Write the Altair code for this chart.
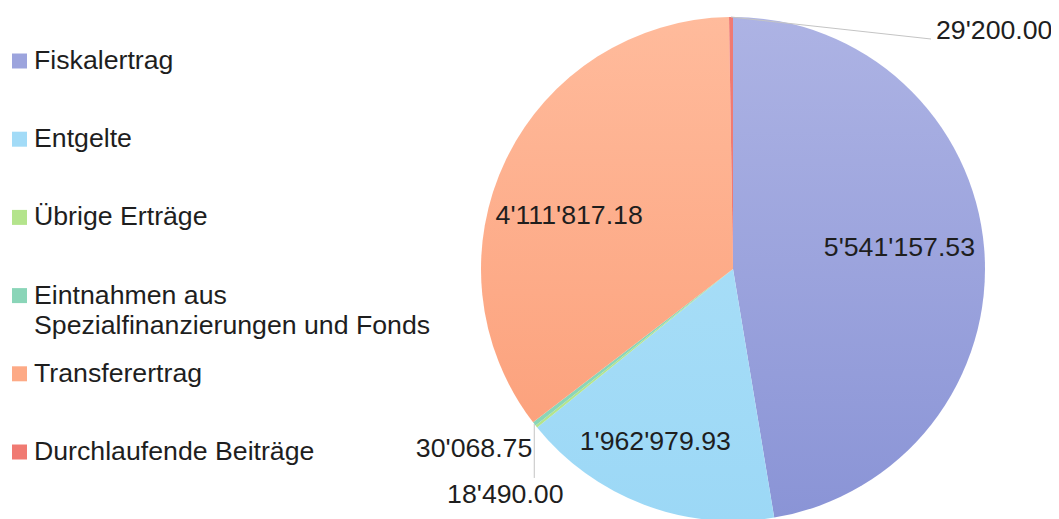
import altair as alt
import pandas as pd

# ---------------- data ----------------
categories = [
    "Fiskalertrag",
    "Entgelte",
    "Übrige Erträge",
    "Eintnahmen aus Spezialfinanzierungen und Fonds",
    "Transferertrag",
    "Durchlaufende Beiträge",
]
values = [5541157.53, 1962979.93, 18490.00, 30068.75, 4111817.18, 29200.00]
legend_line1 = ["Fiskalertrag", "Entgelte", "Übrige Erträge", "Eintnahmen aus",
                "Transferertrag", "Durchlaufende Beiträge"]
legend_line2 = ["", "", "", "Spezialfinanzierungen und Fonds", "", ""]
colors = ["#9ca4dd", "#a2dbf7", "#b4e48c", "#8ad5b8", "#fdaa86", "#f07a72"]


def fmt(v):
    return f"{v:,.2f}".replace(",", "'")


df = pd.DataFrame({
    "idx": list(range(len(categories))),
    "category": categories,
    "value": values,
    "label": [fmt(v) for v in values],
    "line1": legend_line1,
    "line2": legend_line2,
})

# ---------------- style ----------------
CX, CY, R = 725, 261, 252
FONT = "Liberation Sans"
FS = 26.7
TXT = "#1e1e1e"


def grad(top, bottom):
    return alt.LinearGradient(
        gradient="linear",
        stops=[alt.GradientStop(offset=0, color=top),
               alt.GradientStop(offset=1, color=bottom)],
        x1=0, x2=0, y1=0, y2=1,
    )


fills = [
    grad("#adb3e4", "#8a94d6"),
    grad("#a6ddf7", "#9cd8f6"),
    "#b4e48c",
    "#8ad5b8",
    grad("#ffbb9c", "#fca27d"),
    "#f07a72",
]

base = (
    alt.Chart(df)
    .transform_joinaggregate(total="sum(value)")
    .transform_window(cum="sum(value)", sort=[alt.SortField("idx")], frame=[None, 0])
    .transform_calculate(
        a0="2*PI*(datum.cum - datum.value)/datum.total",
        a1="2*PI*datum.cum/datum.total",
    )
    .transform_calculate(mid="(datum.a0 + datum.a1)/2")
    .transform_calculate(
        ex=f"{CX} + {R}*sin(datum.mid)",
        ey=f"{CY} - {R}*cos(datum.mid)",
    )
)

layers = []
for i, f in enumerate(fills):
    layers.append(
        base.transform_filter(f"datum.idx == {i}")
        .mark_arc(outerRadius=R, fill=f, strokeWidth=0)
        .encode(
            theta=alt.Theta("a0:Q", scale=None),
            theta2="a1:Q",
            x=alt.value(CX),
            y=alt.value(CY),
        )
    )


def inner_label(i, r, dx, dy):
    return (
        base.transform_filter(f"datum.idx == {i}")
        .transform_calculate(
            lx=f"{CX} + {r}*sin(datum.mid)",
            ly=f"{CY} - {r}*cos(datum.mid)",
        )
        .mark_text(font=FONT, fontSize=FS, color=TXT, align="center",
                   baseline="middle", dx=dx, dy=dy)
        .encode(
            x=alt.X("lx:Q", scale=None, axis=None),
            y=alt.Y("ly:Q", scale=None, axis=None),
            text="label:N",
        )
    )


def outer_label(i, dx, dy, align):
    return (
        base.transform_filter(f"datum.idx == {i}")
        .mark_text(font=FONT, fontSize=FS, color=TXT, align=align,
                   baseline="alphabetic", dx=dx, dy=dy)
        .encode(
            x=alt.X("ex:Q", scale=None, axis=None),
            y=alt.Y("ey:Q", scale=None, axis=None),
            text="label:N",
        )
    )


def leader(i, ddx, ddy):
    return (
        base.transform_filter(f"datum.idx == {i}")
        .transform_calculate(ex2=f"datum.ex + {ddx}", ey2=f"datum.ey + {ddy}")
        .mark_rule(color="#c4c4c4", strokeWidth=1)
        .encode(
            x=alt.X("ex:Q", scale=None, axis=None),
            y=alt.Y("ey:Q", scale=None, axis=None),
            x2="ex2:Q",
            y2="ey2:Q",
        )
    )


layers += [
    inner_label(0, 167, 0, -7),
    inner_label(1, 185, -12, 0),
    inner_label(4, 172, -9, 22),
    leader(5, 200, 22),
    leader(3, 0, 54),
    outer_label(5, 205, 22, "left"),
    outer_label(3, -2, 33, "right"),
    outer_label(2, -31, 76, "center"),
]

# ---------------- legend (drawn as marks) ----------------
ly = alt.Y("category:N",
           scale=alt.Scale(type="point", domain=categories, range=[53, 444], padding=0),
           axis=None)
leg = alt.Chart(df)
layers += [
    leg.mark_square(size=225, opacity=1).encode(
        x=alt.value(11.5),
        y=ly,
        color=alt.Color("category:N", scale=alt.Scale(domain=categories, range=colors),
                        legend=None),
    ),
    leg.mark_text(font=FONT, fontSize=FS, color=TXT, align="left", baseline="middle").encode(
        x=alt.value(26), y=ly, text="line1:N"),
    leg.mark_text(font=FONT, fontSize=FS, color=TXT, align="left", baseline="middle", dy=30).encode(
        x=alt.value(26), y=ly, text="line2:N"),
]

chart = (
    alt.layer(*layers)
    .resolve_scale(y="independent", x="independent")
    .properties(width=1043, height=511, padding=0, autosize=alt.AutoSizeParams(type="none"))
    .configure_view(stroke=None)
)

chart.save("out.html", embed_options={"renderer": "svg", "actions": False})
